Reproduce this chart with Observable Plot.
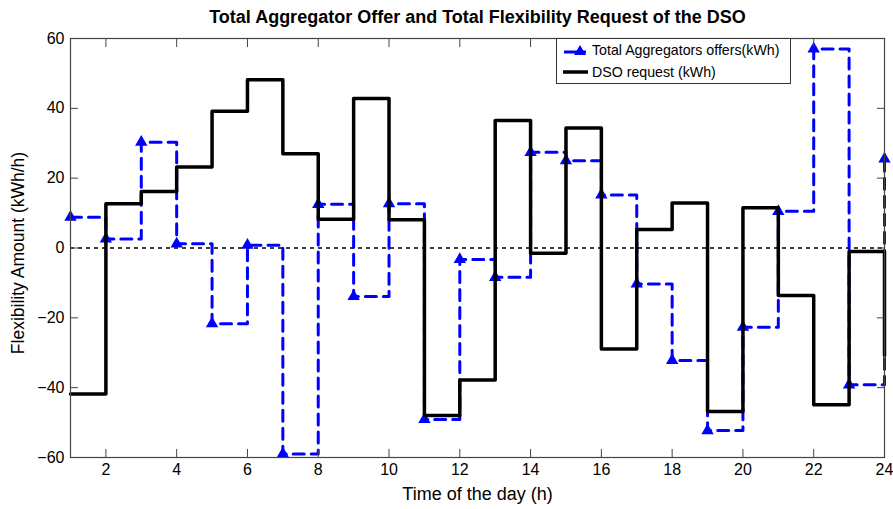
<!DOCTYPE html>
<html>
<head>
<meta charset="utf-8">
<script src="https://cdn.jsdelivr.net/npm/d3@7"></script>
<script src="https://cdn.jsdelivr.net/npm/@observablehq/plot@0.6"></script>
<style>
  html, body { margin: 0; padding: 0; background: #fff; }
  #wrap { position: relative; width: 893px; height: 509px; font-family: "Liberation Sans", Arial, sans-serif; }
  #legend { position: absolute; left: 556px; top: 38px; width: 235px; height: 46px; border: 1px solid #333; background: #fff; box-sizing: border-box; font-size: 14.2px; }
  #legend .row { display: flex; align-items: center; height: 22px; }
  #legend svg { margin-left: 6px; margin-right: 3px; }
</style>
</head>
<body>
<div id="wrap"></div>
<script>
const titleText = "Total Aggregator Offer and Total Flexibility Request of the DSO";
const xLabel = "Time of the day (h)";
const yLabel = "Flexibility Amount (kWh/h)";
const offersName = "Total Aggregators offers(kWh)";
const dsoName = "DSO request (kWh)";

const hours = d3.range(1, 25);
const dsoRequest = [-41.8, 12.7, 16.2, 23.2, 39.2, 48.2, 27.0, 8.2, 42.8, 8.1, -48.0, -37.8,
                    36.5, -1.5, 34.4, -28.9, 5.3, 12.9, -46.8, 11.5, -13.6, -44.9, -1.0, -30.8];
const aggregatorOffers = [8.8, 2.6, 30.3, 1.2, -21.7, 0.8, -59.0, 12.5, -13.9, 12.7, -49.1, -3.3,
                          -8.4, 27.4, 25.0, 15.2, -10.3, -32.2, -52.3, -22.7, 10.5, 57.0, -39.2, 25.5];
const xTicks = [2, 4, 6, 8, 10, 12, 14, 16, 18, 20, 22, 24];
const yTicks = [-60, -40, -20, 0, 20, 40, 60];

const dso = hours.map((h, i) => ({hour: h, value: dsoRequest[i]}));
const offers = hours.map((h, i) => ({hour: h, value: aggregatorOffers[i]}));

const chart = Plot.plot({
  width: 893,
  height: 509,
  marginLeft: 70,
  marginRight: 9,
  marginTop: 38,
  marginBottom: 52,
  style: {fontFamily: "'Liberation Sans', Arial, sans-serif", fontSize: "16px", color: "black", background: "white", overflow: "visible"},
  x: {domain: [1, 24]},
  y: {domain: [-60, 60]},
  marks: [
    Plot.ruleY([0], {stroke: "black", strokeDasharray: "4,4", strokeWidth: 1.3}),
    Plot.line(offers, {x: "hour", y: "value", curve: "step-after", stroke: "blue", strokeWidth: 3, strokeDasharray: "11,7"}),
    Plot.dot(offers, {x: "hour", y: "value", symbol: "triangle", fill: "blue", stroke: "none", r: 4.6}),
    Plot.line(dso, {x: "hour", y: "value", curve: "step-after", stroke: "black", strokeWidth: 3.5}),
    Plot.frame({stroke: "#444", strokeWidth: 1.2}),
    Plot.axisX({ticks: xTicks, anchor: "bottom", tickSize: -8, tickPadding: 14, stroke: "#444", label: null, fontSize: 16}),
    Plot.axisX({ticks: xTicks, anchor: "top", tickSize: -8, stroke: "#444", tickFormat: () => "", label: null}),
    Plot.axisY({ticks: yTicks, anchor: "left", tickSize: -8, tickPadding: 14, stroke: "#444", label: null, fontSize: 16}),
    Plot.axisY({ticks: yTicks, anchor: "right", tickSize: -8, stroke: "#444", tickFormat: () => "", label: null}),
    Plot.text([xLabel], {frameAnchor: "bottom", lineAnchor: "middle", dy: 37, fontSize: 18, fill: "black"}),
    Plot.text([yLabel], {frameAnchor: "left", textAnchor: "middle", lineAnchor: "middle", dx: -52, dy: 5, rotate: -90, fontSize: 17.5, fill: "black"}),
    Plot.text([titleText], {frameAnchor: "top", lineAnchor: "middle", dy: -21, fontWeight: "bold", fontSize: 18, fill: "black"})
  ]
});
const wrap = document.getElementById("wrap");
wrap.appendChild(chart);

const legend = document.createElement("div");
legend.id = "legend";
legend.innerHTML = `
  <div class="row"><svg width="26" height="14"><line x1="1" y1="9" x2="23" y2="9" stroke="blue" stroke-width="3" stroke-dasharray="14,2"/><path d="M17,2 L23,12 L11,12 Z" fill="blue"/></svg><span>${offersName}</span></div>
  <div class="row"><svg width="26" height="14"><line x1="0" y1="7" x2="25" y2="7" stroke="black" stroke-width="3.5"/></svg><span>${dsoName}</span></div>`;
wrap.appendChild(legend);
</script>
</body>
</html>
